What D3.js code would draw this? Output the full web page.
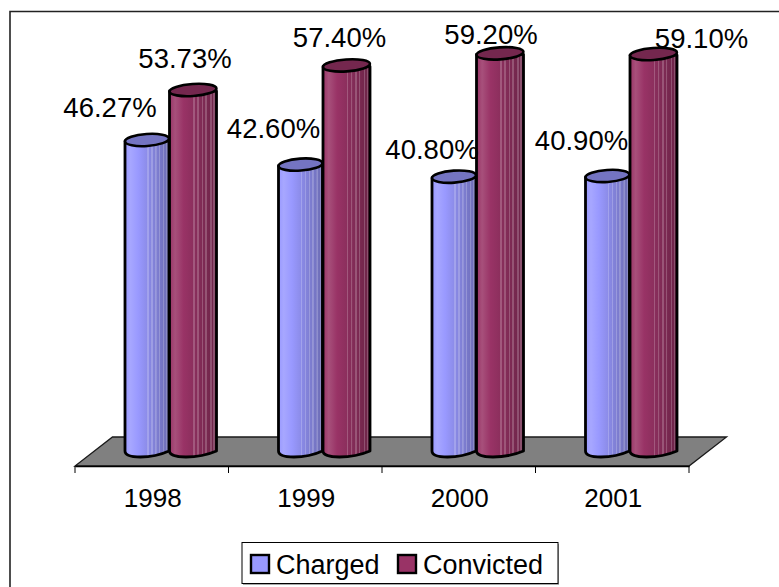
<!DOCTYPE html>
<html><head><meta charset="utf-8">
<script src="https://cdn.jsdelivr.net/npm/d3@7"></script>
<style>html,body{margin:0;padding:0;background:#fff}svg{display:block}text{font-family:"Liberation Sans",Arial,sans-serif;fill:#000}</style>
</head><body><div id="c"></div>
<script>
const years = ["1998","1999","2000","2001"];
const charged = [46.27,42.60,40.80,40.90];
const convicted = [53.73,57.40,59.20,59.10];
const seriesNames = ["Charged","Convicted"];
const seriesColors = ["#9999ff","#993366"];
// label nudges relative to each cylinder's top centre, as placed in the source chart
const chargedLabelDx = [-37,-27,-22,-26];
const chargedLabelDy = [-34,-38,-29,-37];
const convictedLabelDx = [-8,-7,-9,48];
const convictedLabelDy = [-33,-29,-20,-17];

const W=779,H=587;
const svg=d3.select("#c").append("svg").attr("width",W).attr("height",H);
const defs=svg.append("defs");
const stripes=[.52,.61,.70,.78,.88,.95];
function grad(id,base){
  const g=defs.append("linearGradient").attr("id",id).attr("x1","0").attr("x2","1").attr("y1","0").attr("y2","0");
  const at=t=>{
    if(t<.12) return d3.interpolateRgb(base,"#fff")(.14*t/.12);
    if(t<.3) return d3.interpolateRgb(base,"#fff")(.14*(.3-t)/.18);
    return d3.interpolateRgb(base,"#000")(.3*(t-.3)/.7);
  };
  const stops=[[0,at(0)],[.12,at(.12)],[.3,at(.3)]];
  stripes.forEach(s=>{
    stops.push([s-.018,at(s-.018)]);
    stops.push([s-.015,d3.interpolateRgb(at(s),"#fff")(.2)]);
    stops.push([s+.015,d3.interpolateRgb(at(s),"#fff")(.2)]);
    stops.push([s+.018,at(s+.018)]);
  });
  stops.push([1,at(1)]);
  stops.forEach(s=>g.append("stop").attr("offset",s[0]).attr("stop-color",s[1]));
}
grad("gC",seriesColors[0]);grad("gV",seriesColors[1]);

svg.append("path").attr("d",`M10,${H}L10,11.5L${W},11.5`).attr("fill","none").attr("stroke","#222").attr("stroke-width",1.6);

const x=d3.scaleBand().domain(years).range([75,689]);
const y=d3.scaleLinear().domain([0,60]).range([451,49]);
const floorBack=437,floorFront=466,skew=37.5;
svg.append("path").attr("d",d3.line()([[x.range()[0],floorFront],[x.range()[1],floorFront],[x.range()[1]+skew,floorBack],[x.range()[0]+skew,floorBack]])+"Z")
  .attr("fill","#808080").attr("stroke","#1a1a1a").attr("stroke-width",1.3);
const ax=svg.append("g").attr("transform",`translate(0,${floorFront})`)
  .call(d3.axisBottom(x).tickSize(0).tickPadding(23));
ax.select(".domain").attr("stroke","#000").attr("stroke-width",1.5);
ax.selectAll("text").attr("font-size",26).attr("font-family",'"Liberation Sans",Arial,sans-serif').attr("dx",1);
const tickPos=[...years.map(d=>x(d)),x.range()[1]];
svg.selectAll(".tk").data(tickPos).enter().append("line").attr("x1",d=>d).attr("x2",d=>d)
  .attr("y1",floorFront).attr("y2",floorFront+7).attr("stroke","#000").attr("stroke-width",1);

const rx=[22,23.5], ry=6;
function cyl(g,cx,top,r,fill,base){
  const b=y(0);
  g.append("path").attr("d",`M${cx-r},${top}L${cx-r},${b}C${cx-r},${b+8} ${cx+r*.2},${b+8} ${cx+r},${b}L${cx+r},${top}Z`)
    .attr("fill",`url(#${fill})`).attr("stroke","#000").attr("stroke-width",2.8).attr("stroke-linejoin","round");
  g.append("ellipse").attr("cx",cx).attr("cy",top-1).attr("rx",r).attr("ry",ry)
    .attr("transform",`rotate(-4 ${cx} ${top-1})`)
    .attr("fill",d3.interpolateRgb(base,"#000")(.24)).attr("stroke","#000").attr("stroke-width",2.6);
}
years.forEach((yr,i)=>{
  const g=svg.append("g");
  const x0=x(yr);
  const cC=x0+72,cV=x0+118;
  cyl(g,cC,y(charged[i]),rx[0],"gC",seriesColors[0]);
  cyl(g,cV,y(convicted[i]),rx[1],"gV",seriesColors[1]);
  svg.append("text").attr("x",cC+chargedLabelDx[i]).attr("y",y(charged[i])+chargedLabelDy[i]+10).attr("text-anchor","middle").attr("font-size",27.5).text(charged[i].toFixed(2)+"%");
  svg.append("text").attr("x",cV+convictedLabelDx[i]).attr("y",y(convicted[i])+convictedLabelDy[i]+10).attr("text-anchor","middle").attr("font-size",27.5).text(convicted[i].toFixed(2)+"%");
});

// legend
svg.append("rect").attr("x",243).attr("y",544).attr("width",316).attr("height",41).attr("fill","#aaa");
svg.append("rect").attr("x",242).attr("y",542.5).attr("width",316).attr("height",41).attr("fill","#fff").attr("stroke","#000").attr("stroke-width",1);
const lx=[251,398],tx=[276,423];
seriesNames.forEach((n,i)=>{
  svg.append("rect").attr("x",lx[i]).attr("y",555).attr("width",18).attr("height",18).attr("fill",seriesColors[i]).attr("stroke","#000").attr("stroke-width",2.4);
  svg.append("text").attr("x",tx[i]).attr("y",574).attr("font-size",27).text(n);
});
</script></body></html>
